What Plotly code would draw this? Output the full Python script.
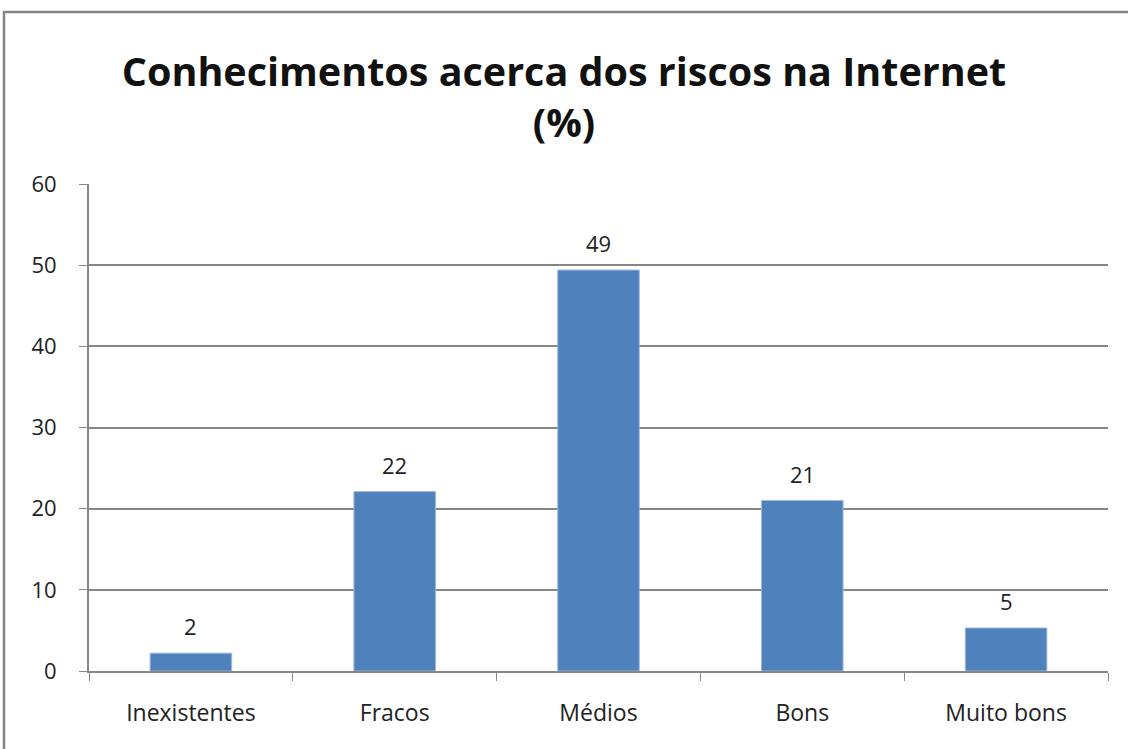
import plotly.graph_objects as go

categorias = ['Inexistentes', 'Fracos', 'Médios', 'Bons', 'Muito bons']
percentagens = [2.2, 22.1, 49.4, 21.0, 5.3]
rotulos = ['2', '22', '49', '21', '5']
y_ticks = [0, 10, 20, 30, 40, 50, 60]

FONT = 'Open Sans, Lato, DejaVu Sans, sans-serif'
GREY = '#868686'

fig = go.Figure()
fig.add_trace(go.Bar(
    x=categorias, y=percentagens, width=0.4,
    marker=dict(color='#4F81BD', line=dict(color='#9DB7DC', width=1)),
    hoverinfo='x+y',
))

# value labels above the bars
for cat, val, lab in zip(categorias, percentagens, rotulos):
    fig.add_annotation(x=cat, y=val, text=lab, showarrow=False,
                       yanchor='bottom', yshift=10,
                       font=dict(size=22, color='#222222', family=FONT))

fig.update_layout(
    width=1128, height=749,
    margin=dict(l=89, r=20, t=184, b=78),
    paper_bgcolor='white', plot_bgcolor='white',
    showlegend=False,
    title=dict(text='<b>Conhecimentos acerca dos riscos na Internet<br>(%)</b>',
               x=0.5, xanchor='center', y=0.885, yanchor='top',
               font=dict(size=39.5, color='#111111', family=FONT)),
    font=dict(family=FONT, size=22, color='#222222'),
    xaxis=dict(type='category', tickson='boundaries', ticks='outside',
               ticklen=8, tickcolor=GREY, showline=True, linecolor=GREY,
               linewidth=2, showgrid=False, tickfont=dict(size=23),
               ticklabelstandoff=20),
    yaxis=dict(range=[0, 60], tickvals=y_ticks, ticks='outside', ticklen=8,
               tickcolor=GREY, showline=True, linecolor=GREY, linewidth=2,
               showgrid=True, gridcolor=GREY, gridwidth=1.5, zeroline=False,
               tickfont=dict(size=22), ticklabelstandoff=18),
    shapes=[dict(type='rect', xref='paper', yref='paper',
                 x0=-0.0834, x1=1.03, y0=-0.17, y1=1.353,
                 line=dict(color=GREY, width=2.5), fillcolor='rgba(0,0,0,0)')],
)

# drop the default page margin so the chart sits at the window's top-left
fig.write_html('out.html', config={'displayModeBar': False},
               post_script="document.body.style.margin='0';")
